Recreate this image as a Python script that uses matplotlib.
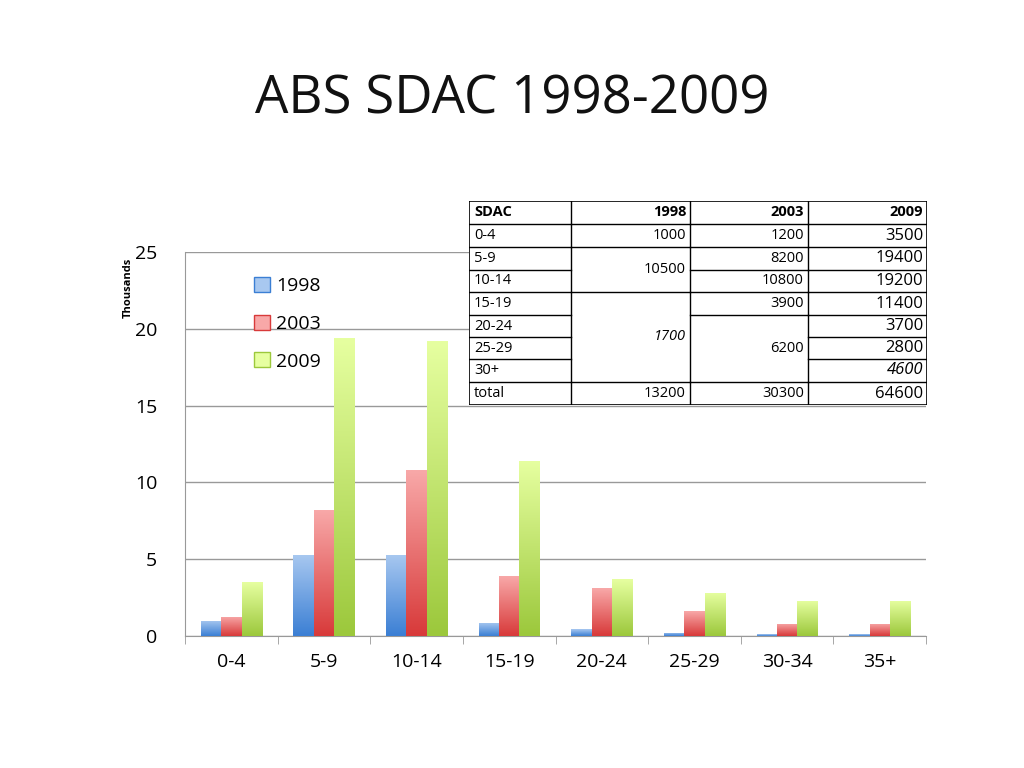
import matplotlib
matplotlib.use("Agg")
import matplotlib.pyplot as plt
import numpy as np
from matplotlib.colors import LinearSegmentedColormap
from matplotlib.patches import Patch

categories = ["0-4", "5-9", "10-14", "15-19", "20-24", "25-29", "30-34", "35+"]
v1998 = [1.0, 5.3, 5.3, 0.85, 0.45, 0.2, 0.12, 0.12]
v2003 = [1.25, 8.2, 10.8, 3.9, 3.1, 1.6, 0.8, 0.8]
v2009 = [3.5, 19.4, 19.2, 11.4, 3.7, 2.8, 2.3, 2.3]
series_names = ["1998", "2003", "2009"]

table_header = ["SDAC", "1998", "2003", "2009"]
table_rows = ["0-4", "5-9", "10-14", "15-19", "20-24", "25-29", "30+", "total"]
col2009 = ["3500", "19400", "19200", "11400", "3700", "2800", "4600", "64600"]

plt.rcParams["font.family"] = "Open Sans"
fig = plt.figure(figsize=(10.24, 7.68), dpi=100)
fig.text(0.5, 0.87, "ABS SDAC 1998-2009", ha="center", va="center", fontsize=38, color="#111111")

ax = fig.add_axes([0.1807, 0.1719, 0.7236, 0.5])
x = np.arange(len(categories))
w = 0.22
grads = [("#a8c8f0", "#3b7fd4"), ("#f8a8a8", "#d83a3a"), ("#e6ffa0", "#9cc83c")]
handles = []
for i, (vals, (ctop, cbot)) in enumerate(zip([v1998, v2003, v2009], grads)):
    cmap = LinearSegmentedColormap.from_list("g", [cbot, ctop])
    bars = ax.bar(x + (i - 1) * w, vals, w, color="none", edgecolor="none", zorder=3)
    for b in bars:
        x0, y0 = b.get_x(), b.get_y()
        ww, hh = b.get_width(), b.get_height()
        im = ax.imshow(np.linspace(0, 1, 100).reshape(-1, 1)[::-1], cmap=cmap, aspect="auto",
                       extent=[x0, x0 + ww, y0, y0 + hh], zorder=3, origin="upper")
        im.set_clip_path(b)
    handles.append(Patch(facecolor=ctop, edgecolor=cbot, label=series_names[i]))

ax.set_xlim(-0.5, len(categories) - 0.5)
ax.set_ylim(0, 25)
ax.set_yticks([0, 5, 10, 15, 20, 25])
ax.tick_params(axis="y", length=0, labelsize=14, pad=20)
ax.set_xticks(x)
ax.set_xticklabels(categories, fontsize=14)
ax.tick_params(axis="x", length=0, pad=12)
ax.set_xticks(np.arange(-0.5, len(categories), 1), minor=True)
ax.tick_params(axis="x", which="minor", length=6, color="#999999", direction="out")
ax.grid(axis="y", color="#999999", lw=1, zorder=0)
for s in ["top", "right"]:
    ax.spines[s].set_visible(False)
ax.spines["left"].set_color("#999999")
ax.spines["bottom"].set_color("#999999")
fig.text(0.125, 0.625, "Thousands", rotation=90, ha="center", va="center", fontsize=8, fontweight="bold")
ax.legend(handles=handles, loc="upper left", bbox_to_anchor=(0.07, 0.98), frameon=False,
          fontsize=14, handlelength=0.8, handleheight=0.8, labelspacing=1.0, handletextpad=0.3)

# table
tax = fig.add_axes([469/1024, 1-405/768, (927-469)/1024, (405-201)/768])
tax.set_xlim(469, 927)
tax.set_ylim(405, 201)
tax.axis("off")
tax.add_patch(plt.Rectangle((469, 201), 458, 204, facecolor="white", edgecolor="black", lw=1.2))
cols = [469, 571, 690, 808, 927]
rh = 204 / 9
rowy = [201 + rh * 0.98 * k for k in range(9)]
rowy = [201, 224, 247, 270, 292, 315, 337, 359, 382, 405]
lw = 1
for c in cols[1:-1]:
    tax.plot([c, c], [201, 405], color="black", lw=lw)
def hline(y, x0, x1):
    tax.plot([x0, x1], [y, y], color="black", lw=lw)
for k in range(1, 9):
    y = rowy[k]
    hline(y, 469, 571)
    hline(y, 808, 927)
    if k in (1, 2, 4, 8):
        hline(y, 571, 690)
    if k in (1, 2, 3, 4, 5, 8):
        hline(y, 690, 808)
fs = 10.5
tax.text(474, (rowy[0]+rowy[1])/2, table_header[0], fontsize=fs, fontweight="bold", va="center")
for j in range(1, 4):
    tax.text(cols[j+1]-4, (rowy[0]+rowy[1])/2, table_header[j], fontsize=fs, fontweight="bold", va="center", ha="right")
for k, r in enumerate(table_rows):
    yc = (rowy[k+1]+rowy[k+2])/2
    tax.text(474, yc, r, fontsize=fs, va="center")
    tax.text(923, yc, col2009[k], fontsize=12, va="center", ha="right", style="italic" if r == "30+" else "normal")
def c(row): return (rowy[row+1]+rowy[row+2])/2
tax.text(686, c(0), "1000", fontsize=fs, va="center", ha="right")
tax.text(686, (rowy[2]+rowy[4])/2, "10500", fontsize=fs, va="center", ha="right")
tax.text(686, (rowy[4]+rowy[8])/2, "1700", fontsize=fs, va="center", ha="right", style="italic")
tax.text(686, c(7), "13200", fontsize=fs, va="center", ha="right")
tax.text(804, c(0), "1200", fontsize=fs, va="center", ha="right")
tax.text(804, c(1), "8200", fontsize=fs, va="center", ha="right")
tax.text(804, c(2), "10800", fontsize=fs, va="center", ha="right")
tax.text(804, c(3), "3900", fontsize=fs, va="center", ha="right")
tax.text(804, (rowy[5]+rowy[8])/2, "6200", fontsize=fs, va="center", ha="right")
tax.text(804, c(7), "30300", fontsize=fs, va="center", ha="right")

fig.savefig("out.png", dpi=100)
